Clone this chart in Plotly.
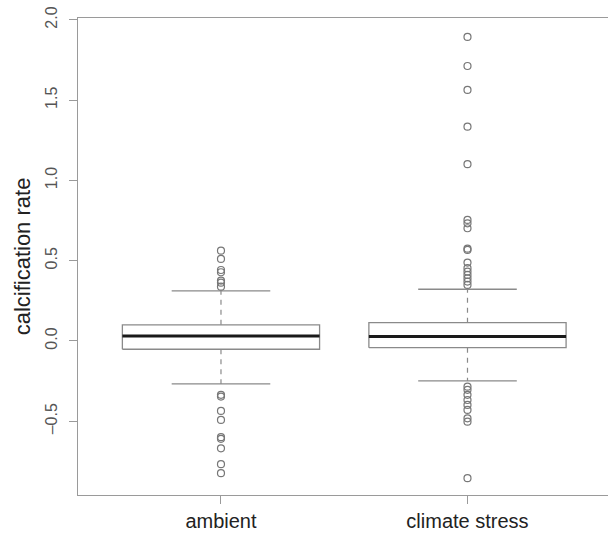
import plotly.graph_objects as go

categories = ["ambient", "climate stress"]
positions = [1, 2]
q1 = [-0.052, -0.042]
median = [0.031, 0.027]
q3 = [0.100, 0.114]
lower_whisker = [-0.268, -0.249]
upper_whisker = [0.312, 0.322]
outliers = [
    [0.562, 0.511, 0.442, 0.428, 0.376, 0.363, 0.338,
     -0.336, -0.347, -0.436, -0.492, -0.600, -0.610, -0.669, -0.768, -0.824],
    [1.894, 1.713, 1.564, 1.335, 1.101, 0.754, 0.733, 0.702, 0.575, 0.567,
     0.488, 0.453, 0.432, 0.411, 0.390, 0.370, 0.349,
     -0.285, -0.305, -0.336, -0.368, -0.399, -0.430, -0.482, -0.503, -0.855],
]
y_ticks = [-0.5, 0.0, 0.5, 1.0, 1.5, 2.0]
y_tick_labels = ["\u20130.5", "0.0", "0.5", "1.0", "1.5", "2.0"]

box_half = 0.4
cap_half = 0.2
box_col = "#8a8a8a"

fig = go.Figure()
for i, p in enumerate(positions):
    fig.add_trace(go.Scatter(
        x=[p - box_half, p + box_half, p + box_half, p - box_half, p - box_half],
        y=[q1[i], q1[i], q3[i], q3[i], q1[i]],
        mode="lines", line=dict(color=box_col, width=1.3),
        fill="toself", fillcolor="white", hoverinfo="skip", showlegend=False))
    fig.add_trace(go.Scatter(
        x=[p, p, None, p, p], y=[q3[i], upper_whisker[i], None, q1[i], lower_whisker[i]],
        mode="lines", line=dict(color=box_col, width=1.2, dash="5px,5px"),
        hoverinfo="skip", showlegend=False))
    fig.add_trace(go.Scatter(
        x=[p - cap_half, p + cap_half, None, p - cap_half, p + cap_half],
        y=[upper_whisker[i], upper_whisker[i], None, lower_whisker[i], lower_whisker[i]],
        mode="lines", line=dict(color=box_col, width=1.3),
        hoverinfo="skip", showlegend=False))
    fig.add_trace(go.Scatter(
        x=[p - box_half, p + box_half], y=[median[i], median[i]],
        mode="lines", line=dict(color="#1a1a1a", width=3),
        hoverinfo="skip", showlegend=False))
    fig.add_trace(go.Scatter(
        x=[p] * len(outliers[i]), y=outliers[i], mode="markers",
        marker=dict(symbol="circle-open", size=7, color="#777777", line=dict(width=1.2)),
        showlegend=False, name=categories[i]))

fig.update_layout(
    width=608, height=535,
    margin=dict(l=78, r=0, t=18, b=40),
    paper_bgcolor="white", plot_bgcolor="white",
    font=dict(family="Liberation Sans, Arial, sans-serif", color="#222"),
    xaxis=dict(
        range=[0.42, 2.57], tickmode="array", tickvals=positions, ticktext=categories,
        showgrid=False, zeroline=False, showline=True, mirror=True,
        linecolor="#9a9a9a", linewidth=1.3,
        ticks="outside", ticklen=8, tickcolor="#9a9a9a", tickwidth=1.2,
        tickfont=dict(size=20, color="#222"),
    ),
    yaxis=dict(
        range=[-0.96, 2.012], tickmode="array", tickvals=y_ticks, ticktext=y_tick_labels,
        showgrid=False, zeroline=False, showline=True, mirror=False,
        linecolor="#9a9a9a", linewidth=1.3,
        ticks="outside", ticklen=8, tickcolor="#9a9a9a", tickwidth=1.2,
        tickangle=-90, tickfont=dict(size=16, color="#555"), ticklabelstandoff=5,
        title=dict(text="calcification rate", font=dict(size=22, color="#222"), standoff=6),
    ),
)

fig.write_html("out.html")
